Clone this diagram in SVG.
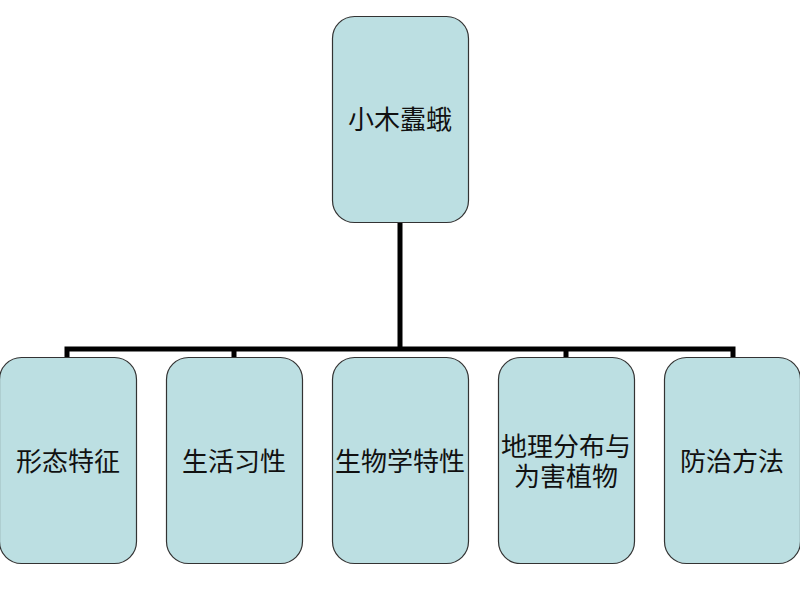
<svg xmlns="http://www.w3.org/2000/svg" width="800" height="600" viewBox="0 0 800 600">
<style>
.box{fill:#BCDFE2;stroke:#333;stroke-width:1.2}
.t{font-family:"Liberation Sans","Noto Sans CJK SC",sans-serif;font-size:26px;fill:#111;text-anchor:middle;dominant-baseline:central}
.c{fill:none;stroke:#000;stroke-width:5}
</style>
<rect width="800" height="600" fill="#fff"/>
<g id="connectors">
<path class="c" d="M400,222 V349 M67,357 V349 H733 V357 M234,349 V357 M566,349 V357"/>
</g>
<g id="root"><rect class="box" x="332.5" y="16.5" width="136" height="206" rx="22"/><text class="t" x="400" y="120">小木蠹蛾</text></g>
<g id="n1"><rect class="box" x="-0.5" y="357.5" width="137" height="206" rx="22"/><text class="t" x="68" y="462">形态特征</text></g>
<g id="n2"><rect class="box" x="166.5" y="357.5" width="136" height="206" rx="22"/><text class="t" x="234" y="462">生活习性</text></g>
<g id="n3"><rect class="box" x="332.5" y="357.5" width="136" height="206" rx="22"/><text class="t" x="400" y="462">生物学特性</text></g>
<g id="n4"><rect class="box" x="498.5" y="357.5" width="136" height="206" rx="22"/><text class="t" x="566" y="447">地理分布与</text><text class="t" x="566" y="477">为害植物</text></g>
<g id="n5"><rect class="box" x="664.5" y="357.5" width="136" height="206" rx="22"/><text class="t" x="732" y="462">防治方法</text></g>
</svg>
